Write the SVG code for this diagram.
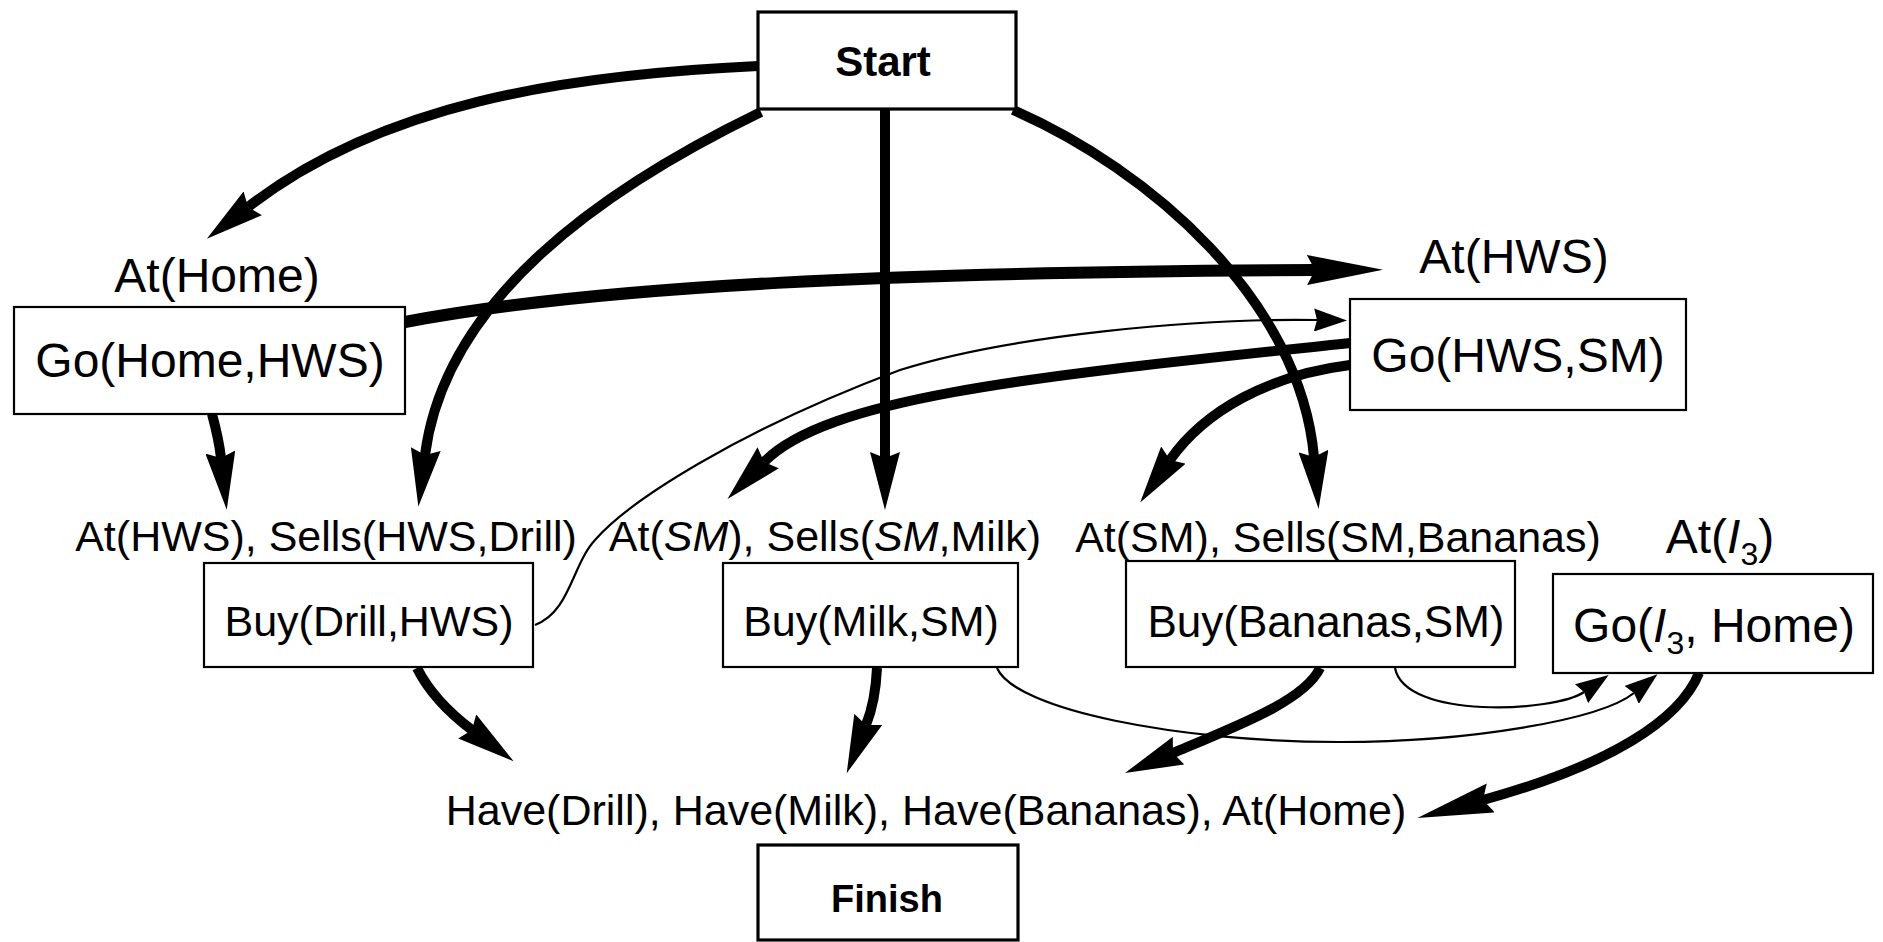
<svg xmlns="http://www.w3.org/2000/svg" width="1883" height="942" viewBox="0 0 1883 942">
<style>
.box{fill:#fff;stroke:#000;stroke-width:2.2}
.term{fill:#fff;stroke:#000;stroke-width:3.2}
.t{font-family:"Liberation Sans",Arial,Helvetica,sans-serif;fill:#000;text-anchor:middle}
.big{font-size:48px}
.lab{font-size:43px}
.bold{font-weight:bold}
.thick{fill:none;stroke:#000;stroke-width:10}
.xthick{fill:none;stroke:#000;stroke-width:12}
.thin{fill:none;stroke:#000;stroke-width:2.2}
</style>
<defs>
<marker id="ah" markerUnits="userSpaceOnUse" markerWidth="58" markerHeight="30" viewBox="0 0 58 30" refX="6" refY="15" orient="auto"><path d="M0,0 L58,15 L0,30 L6,15 Z" fill="#000"/></marker>
<marker id="ahl" markerUnits="userSpaceOnUse" markerWidth="76" markerHeight="30" viewBox="0 0 76 30" refX="8" refY="15" orient="auto"><path d="M0,0 L76,15 L0,30 L8,15 Z" fill="#000"/></marker>
<marker id="aht" markerUnits="userSpaceOnUse" markerWidth="33" markerHeight="23" viewBox="0 0 33 23" refX="3" refY="11.5" orient="auto"><path d="M0,0 L33,11.5 L0,23 L3,11.5 Z" fill="#000"/></marker>
</defs>

<g id="connectors">
<path class="thick" d="M758,66 C560,75 380,105 248,207" marker-end="url(#ah)"/>
<path class="thick" d="M761,112 C600,190 445,300 425,455" marker-end="url(#ah)"/>
<path class="thick" d="M885,110 L885,458" marker-end="url(#ah)"/>
<path class="thick" d="M1013,110 C1150,170 1300,300 1314,457" marker-end="url(#ah)"/>
<path class="xthick" d="M405,322 C600,285 900,272 1315,270" marker-end="url(#ahl)"/>
<path class="thick" d="M212,414 Q219,440 221,458" marker-end="url(#ah)"/>
<path class="thick" d="M1350,343 C1050,375 830,395 764,462" marker-end="url(#ah)"/>
<path class="thick" d="M1350,365 C1270,375 1205,410 1170,460" marker-end="url(#ah)"/>
<path class="thin" d="M535,625 C570,612 572,565 595,540 C630,500 740,430 900,370 C1010,335 1200,318 1317,320" marker-end="url(#aht)"/>
<path class="thick" d="M417,668 C428,690 448,712 472,730" marker-end="url(#ah)"/>
<path class="thick" d="M877,668 C876,690 872,710 866,725" marker-end="url(#ah)"/>
<path class="thin" d="M997,668 C1015,710 1180,742 1340,742 C1470,742 1600,720 1634,693" marker-end="url(#aht)"/>
<path class="thin" d="M1395,668 C1405,720 1555,712 1584,692" marker-end="url(#aht)"/>
<path class="thick" d="M1320,668 C1305,700 1240,725 1173,753" marker-end="url(#ah)"/>
<path class="thick" d="M1699,673 C1680,720 1610,765 1483,800" marker-end="url(#ahl)"/>
</g>

<g id="start">
<rect class="term" x="758" y="12" width="258" height="97"/>
<text class="t bold" x="883" y="76" font-size="42">Start</text>
</g>

<g id="go-home-hws">
<text class="t big" x="217" y="292">At(Home)</text>
<rect class="box" x="14" y="307" width="391" height="107"/>
<text class="t big" x="210" y="377">Go(Home,HWS)</text>
</g>

<g id="go-hws-sm">
<text class="t big" x="1514" y="273">At(HWS)</text>
<rect class="box" x="1350" y="299" width="336" height="111"/>
<text class="t big" x="1518" y="372">Go(HWS,SM)</text>
</g>

<g id="buy-drill">
<text class="t lab" x="326" y="551">At(HWS), Sells(HWS,Drill)</text>
<rect class="box" x="204" y="563" width="329" height="104"/>
<text class="t lab" x="369" y="636">Buy(Drill,HWS)</text>
</g>

<g id="buy-milk">
<text class="t lab" x="825" y="551">At(<tspan font-style="italic">SM</tspan>), Sells(<tspan font-style="italic">SM</tspan>,Milk)</text>
<rect class="box" x="723" y="563" width="295" height="104"/>
<text class="t lab" x="871" y="636">Buy(Milk,SM)</text>
</g>

<g id="buy-bananas">
<text class="t lab" x="1338" y="552">At(SM), Sells(SM,Bananas)</text>
<rect class="box" x="1126" y="561" width="389" height="106"/>
<text class="t" x="1326" y="637" font-size="44">Buy(Bananas,SM)</text>
</g>

<g id="go-i3-home">
<text class="t big" x="1720" y="553">At(<tspan font-style="italic">I</tspan><tspan font-size="32" dy="12">3</tspan><tspan dy="-12">)</tspan></text>
<rect class="box" x="1553" y="574" width="320" height="99"/>
<text class="t big" x="1714" y="642">Go(<tspan font-style="italic">I</tspan><tspan font-size="32" dy="12">3</tspan><tspan dy="-12">, Home)</tspan></text>
</g>

<g id="finish">
<text class="t lab" x="926" y="825">Have(Drill), Have(Milk), Have(Bananas), At(Home)</text>
<rect class="term" x="758" y="845" width="260" height="95"/>
<text class="t bold" x="887" y="912" font-size="38">Finish</text>
</g>
</svg>
